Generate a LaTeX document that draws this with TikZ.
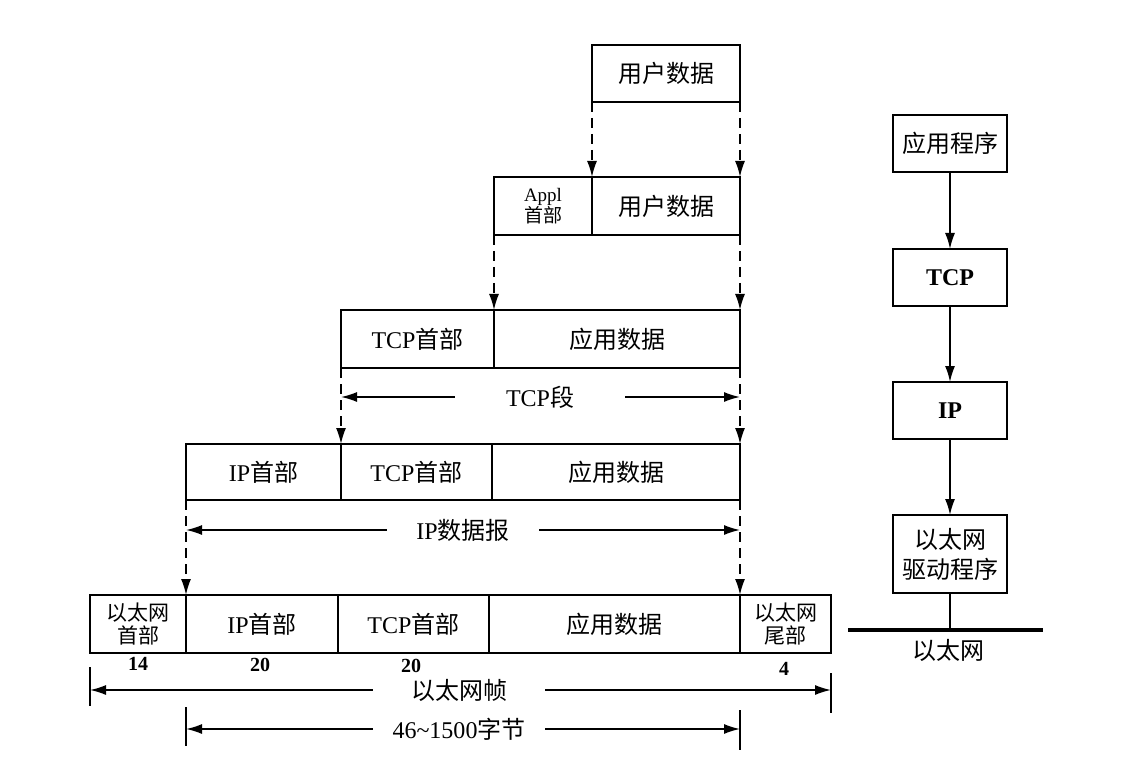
\documentclass[tikz,border=0pt]{standalone}
\usepackage{fontspec}
\setmainfont{Liberation Serif}
\newfontfamily\cjk{Noto Sans CJK SC}
\usetikzlibrary{arrows.meta}
\begin{document}
\begin{tikzpicture}[x=0.5pt,y=-0.5pt,
  cell/.style={draw, line width=0.9pt, inner sep=0pt, outer sep=0pt, anchor=north west, align=center, font=\fontsize{12}{14}\selectfont},
  stack/.style={draw, line width=0.9pt, inner sep=0pt, outer sep=0pt, anchor=north, align=center, minimum width=57pt, font=\fontsize{12}{15}\selectfont},
  small/.style={font=\fontsize{10.5}{11.5}\selectfont},
  num/.style={font=\fontsize{10}{11}\selectfont\bfseries, inner sep=0pt},
  lbl/.style={inner sep=0pt, font=\fontsize{12}{14}\selectfont, minimum height=12pt},
  tipstyle/.style={-{Latex[length=8pt,width=5pt]}},
  dlink/.style={line width=0.8pt, dash pattern=on 5pt off 3pt, tipstyle},
  slink/.style={line width=0.8pt, tipstyle},
  dimarrow/.style={line width=0.8pt, tipstyle},
  tickline/.style={line width=0.8pt}]
\useasboundingbox (0,0) rectangle (1138,780);

% row 1
\node[cell, minimum width=74pt, minimum height=28.5pt] (u1) at (592,45) {\cjk 用户数据};
% row 2
\node[cell, minimum width=49pt, minimum height=29pt, font=\fontsize{9.5}{10.5}\selectfont] (a2) at (494,177) {Appl\\{\cjk 首部}};
\node[cell, minimum width=74pt, minimum height=29pt] (d2) at (592,177) {\cjk 用户数据};
% row 3
\node[cell, minimum width=76.5pt, minimum height=29pt] (t3) at (341,310) {TCP{\cjk 首部}};
\node[cell, minimum width=123pt, minimum height=29pt] (d3) at (494,310) {\cjk 应用数据};
% row 4
\node[cell, minimum width=77.5pt, minimum height=28pt] (i4) at (186,444) {IP{\cjk 首部}};
\node[cell, minimum width=75.5pt, minimum height=28pt] (t4) at (341,444) {TCP{\cjk 首部}};
\node[cell, minimum width=124pt, minimum height=28pt] (d4) at (492,444) {\cjk 应用数据};
% row 5
\node[cell, small, minimum width=48pt, minimum height=29pt] (e5) at (90,595) {\cjk 以太网\\\cjk 首部};
\node[cell, minimum width=76pt, minimum height=29pt] (i5) at (186,595) {IP{\cjk 首部}};
\node[cell, minimum width=75.5pt, minimum height=29pt] (t5) at (338,595) {TCP{\cjk 首部}};
\node[cell, minimum width=125.5pt, minimum height=29pt] (d5) at (489,595) {\cjk 应用数据};
\node[cell, small, minimum width=45.5pt, minimum height=29pt] (f5) at (740,595) {\cjk 以太网\\\cjk 尾部};

% byte counts
\node[num] (n14) at (138,664) {14};
\node[num] (n20a) at (260,665) {20};
\node[num] (n20b) at (411,666) {20};
\node[num] (n4) at (784,669) {4};

% dashed encapsulation arrows
\draw[dlink] (u1.south west) -- (d2.north west);
\draw[dlink] (u1.south east) -- (d2.north east);
\draw[dlink] (a2.south west) -- (d3.north west);
\draw[dlink] (d2.south east) -- (d3.north east);
\draw[dlink] (t3.south west) -- (t4.north west);
\draw[dlink] (d3.south east) -- (d4.north east);
\draw[dlink] (i4.south west) -- (i5.north west);
\draw[dlink] (d4.south east) -- (f5.north west);

% TCP segment
\node[lbl, minimum width=85pt] (seg) at (540,397) {TCP{\cjk 段}};
\draw[dimarrow] (seg.west) -- (seg.west -| t3.south west);
\draw[dimarrow] (seg.east) -- (seg.east -| d3.south east);

% IP datagram
\node[lbl, minimum width=76pt] (dgram) at (463,530) {IP{\cjk 数据报}};
\draw[dimarrow] (dgram.west) -- (dgram.west -| i4.south west);
\draw[dimarrow] (dgram.east) -- (dgram.east -| d4.south east);

% Ethernet frame
\node[lbl, minimum width=86pt] (frame) at (459,690) {\cjk 以太网帧};
\draw[dimarrow] (frame.west) -- (frame.west -| e5.south west);
\draw[dimarrow] (frame.east) -- (frame.east -| f5.south east);
\draw[tickline] (90,667) -- (90,706);
\draw[tickline] (831,673) -- (831,713);

% payload size
\node[lbl, minimum width=86pt] (pay) at (459,729) {46\textasciitilde1500{\cjk 字节}};
\draw[dimarrow] (pay.west) -- (pay.west -| i5.south west);
\draw[dimarrow] (pay.east) -- (pay.east -| d5.south east);
\draw[tickline] (186,707) -- (186,746);
\draw[tickline] (740,710) -- (740,750);

% protocol stack
\node[stack, minimum height=28.5pt] (app) at (950,115) {\cjk 应用程序};
\node[stack, minimum height=28.5pt] (tcp) at (950,249) {\bfseries TCP};
\node[stack, minimum height=28.5pt] (ip) at (950,382) {\bfseries IP};
\node[stack, minimum height=39pt] (drv) at (950,515) {\cjk 以太网\\\cjk 驱动程序};
\draw[slink] (app) -- (tcp);
\draw[slink] (tcp) -- (ip);
\draw[slink] (ip) -- (drv);
\coordinate (ethL) at (848,630);
\coordinate (ethR) at (1043,630);
\draw[line width=2pt] (ethL) -- (ethR);
\draw[line width=0.8pt] (drv.south) -- (drv.south |- ethL);
\node[lbl] (ethtxt) at (948,650) {\cjk 以太网};
\end{tikzpicture}
\end{document}
